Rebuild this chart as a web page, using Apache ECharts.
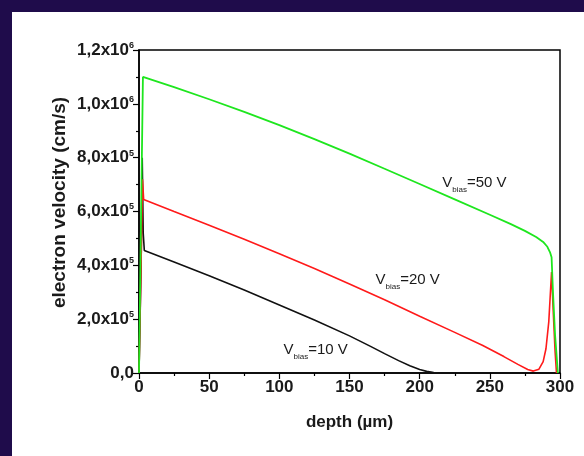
<!DOCTYPE html>
<html><head><meta charset="utf-8">
<script src="https://cdn.jsdelivr.net/npm/echarts@6/dist/echarts.min.js"></script>
<style>
html,body{margin:0;padding:0;background:#1f0c4b;}
#wrap{position:relative;width:584px;height:456px;background:#1f0c4b;overflow:hidden}
#panel{position:absolute;left:12px;top:12px;right:0;bottom:0;background:#fff}
#chart{position:absolute;left:0;top:0;width:584px;height:456px}
</style></head><body>
<div id="wrap"><div id="panel"></div><div id="chart"></div></div>
<script>
// ---- data (depth in µm, velocity in cm/s) ----
const depth10 = [0, 1.5, 2.3, 3, 3.8, 25, 50, 75, 100, 125, 150, 165, 175, 185, 193, 200, 205, 210, 215, 225];
const vel10   = [0, 4.0e5, 8.0e5, 5.2e5, 4.55e5, 4.12e5, 3.61e5, 3.08e5, 2.53e5, 1.97e5, 1.38e5, 0.99e5, 0.72e5, 0.46e5, 0.27e5, 0.13e5, 0.06e5, 0.02e5, 0, 0];

const depth20 = [0, 1.8, 2.5, 3.3, 25, 50, 75, 100, 125, 150, 175, 200, 225, 245, 260, 270, 277, 281, 285, 288, 290, 292, 293.5, 294, 295, 296.5, 297.5];
const vel20   = [0, 5.0e5, 7.2e5, 6.45e5, 6.0e5, 5.49e5, 4.97e5, 4.43e5, 3.88e5, 3.31e5, 2.72e5, 2.11e5, 1.51e5, 1.02e5, 0.61e5, 0.32e5, 0.13e5, 0.07e5, 0.14e5, 0.42e5, 0.9e5, 1.9e5, 3.3e5, 3.75e5, 2.5e5, 0.8e5, 0];

const depth50 = [0, 2.8, 25, 50, 75, 100, 125, 150, 175, 200, 225, 250, 265, 275, 283, 288, 291, 293, 294, 295, 296.5, 298.5];
const vel50   = [0, 1.10e6, 1.062e6, 1.017e6, 0.970e6, 0.921e6, 0.869e6, 0.815e6, 0.759e6, 0.702e6, 0.645e6, 0.588e6, 0.553e6, 0.528e6, 0.505e6, 0.487e6, 0.469e6, 0.447e6, 0.43e6, 0.30e6, 0.14e6, 0];

const yTickValues = [0, 2e5, 4e5, 6e5, 8e5, 1e6, 1.2e6];
const yTickLabels = ['0,0', '2,0x10{s|5}', '4,0x10{s|5}', '6,0x10{s|5}', '8,0x10{s|5}', '1,0x10{s|6}', '1,2x10{s|6}'];

const seriesLabels = ['10 V', '20 V', '50 V'];
const labelAnchors = [[102.6, 0.85e5], [168.2, 3.45e5], [215.7, 7.06e5]];

const zip = (a, b) => a.map((x, i) => [x, b[i]]);
const FONT = 'Liberation Sans, Arial, sans-serif';
const TXT = '#1a1a1a';

function mkLabel(i) {
  return {
    symbol: 'circle', symbolSize: 1, silent: true,
    itemStyle: { color: 'rgba(0,0,0,0)' },
    label: {
      show: true, position: 'right', distance: 0,
      formatter: 'V{b|bias}=' + seriesLabels[i],
      color: TXT, fontFamily: FONT, fontSize: 15,
      rich: { b: { fontSize: 8, fontFamily: FONT, color: TXT, verticalAlign: 'bottom', padding: [13, 0, 0, 0] } }
    },
    data: [{ coord: labelAnchors[i] }]
  };
}

const chart = echarts.init(document.getElementById('chart'), null, { renderer: 'canvas' });
chart.setOption({
  backgroundColor: 'transparent',
  animation: false,
  grid: { left: 139, right: 24, top: 50, bottom: 83, show: true, borderColor: '#000', borderWidth: 1.5 },
  xAxis: {
    type: 'value', min: 0, max: 300, interval: 50,
    name: 'depth (µm)', nameLocation: 'middle', nameGap: 41, nameMoveOverlap: false,
    nameTextStyle: { fontFamily: FONT, fontSize: 17, color: TXT, fontWeight: 'bold' },
    axisLine: { show: true, lineStyle: { color: '#000', width: 1.5 } },
    axisTick: { show: true, length: 6, lineStyle: { color: '#000', width: 1.2 } },
    minorTick: { show: true, splitNumber: 2, length: 3, lineStyle: { color: '#000', width: 1.2 } },
    splitLine: { show: false },
    axisLabel: { fontFamily: FONT, fontSize: 17, color: TXT, margin: 6, fontWeight: 'bold' }
  },
  yAxis: {
    type: 'value', min: 0, max: 1.2e6, interval: 2e5,
    name: 'electron velocity (cm/s)', nameLocation: 'middle', nameGap: 70, nameMoveOverlap: false,
    nameTextStyle: { fontFamily: FONT, fontSize: 19, color: TXT, fontWeight: 'bold', padding: [0, 0, 0, 18] },
    axisLine: { show: true, lineStyle: { color: '#000', width: 1.5 } },
    axisTick: { show: true, length: 6, lineStyle: { color: '#000', width: 1.2 } },
    minorTick: { show: true, splitNumber: 2, length: 3, lineStyle: { color: '#000', width: 1.2 } },
    splitLine: { show: false },
    axisLabel: {
      fontFamily: FONT, fontSize: 17, color: TXT, margin: 5, fontWeight: 'bold',
      formatter: (v) => yTickLabels[yTickValues.findIndex(t => Math.abs(t - v) < 1)],
      rich: { s: { fontSize: 9, fontFamily: FONT, color: TXT, fontWeight: 'bold', verticalAlign: 'top', padding: [0, 0, 9, 0] } }
    }
  },
  series: [
    { type: 'line', data: zip(depth10, vel10), showSymbol: false, lineStyle: { color: '#111', width: 1.6 }, itemStyle: { color: '#111' }, markPoint: mkLabel(0) },
    { type: 'line', data: zip(depth20, vel20), showSymbol: false, lineStyle: { color: '#ff1a1a', width: 1.6 }, itemStyle: { color: '#ff1a1a' }, markPoint: mkLabel(1) },
    { type: 'line', data: zip(depth50, vel50), showSymbol: false, lineStyle: { color: '#1ee61e', width: 1.8 }, itemStyle: { color: '#1ee61e' }, markPoint: mkLabel(2) }
  ]
});
</script>
</body></html>
